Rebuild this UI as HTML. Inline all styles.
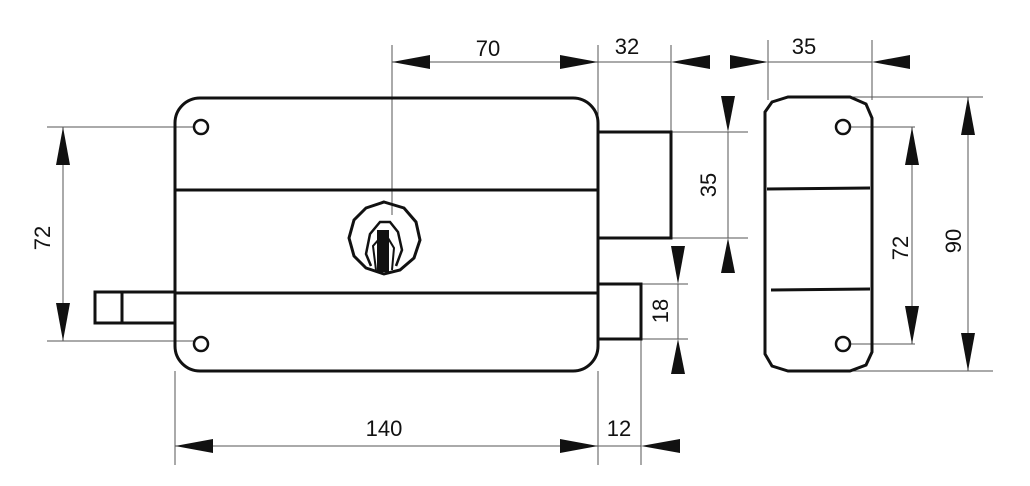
<!DOCTYPE html>
<html><head><style>html,body{margin:0;padding:0;background:#fff}svg{display:block}</style></head>
<body>
<svg width="1030" height="486" viewBox="0 0 1030 486" xmlns="http://www.w3.org/2000/svg" font-family="Liberation Sans, sans-serif" font-size="22" fill="#111">
<!-- thin lines -->
<g stroke="#555" stroke-width="1" fill="none">
<line x1="392" y1="45" x2="392" y2="215"/>
<line x1="598" y1="45" x2="598" y2="145"/>
<line x1="671" y1="45" x2="671" y2="132"/>
<line x1="768" y1="40" x2="768" y2="100"/>
<line x1="872" y1="40" x2="872" y2="100"/>
<line x1="392" y1="62" x2="671" y2="62"/>
<line x1="768" y1="62" x2="872" y2="62"/>
<line x1="47" y1="127" x2="195" y2="127"/>
<line x1="47" y1="341" x2="195" y2="341"/>
<line x1="63" y1="127" x2="63" y2="341"/>
<line x1="671" y1="132" x2="748" y2="132"/>
<line x1="671" y1="238" x2="748" y2="238"/>
<line x1="728" y1="132" x2="728" y2="238"/>
<line x1="641" y1="284" x2="688" y2="284"/>
<line x1="641" y1="339" x2="688" y2="339"/>
<line x1="678" y1="284" x2="678" y2="339"/>
<line x1="175" y1="371" x2="175" y2="465"/>
<line x1="598" y1="371" x2="598" y2="465"/>
<line x1="641" y1="339" x2="641" y2="465"/>
<line x1="175" y1="446" x2="641" y2="446"/>
<line x1="850" y1="97" x2="983" y2="97"/>
<line x1="850" y1="371" x2="993" y2="371"/>
<line x1="843" y1="127" x2="915" y2="127"/>
<line x1="843" y1="344" x2="915" y2="344"/>
<line x1="912" y1="127" x2="912" y2="344"/>
<line x1="968" y1="97" x2="968" y2="371"/>
</g>
<!-- arrows -->
<g fill="#111">
<polygon points="392,62 430,55 430,69"/>
<polygon points="598,62 560,55 560,69"/>
<polygon points="671,62 710,55 710,69"/>
<polygon points="768,62 730,55 730,69"/>
<polygon points="872,62 910,55 910,69"/>
<polygon points="63,127 56,165 70,165"/>
<polygon points="63,341 56,303 70,303"/>
<polygon points="728,132 721,96 735,96"/>
<polygon points="728,238 721,273 735,273"/>
<polygon points="678,284 671,246 685,246"/>
<polygon points="678,339 671,374 685,374"/>
<polygon points="175,446 213,439 213,453"/>
<polygon points="598,446 560,439 560,453"/>
<polygon points="641,446 680,439 680,453"/>
<polygon points="912,127 905,165 919,165"/>
<polygon points="912,344 905,306 919,306"/>
<polygon points="968,97 961,135 975,135"/>
<polygon points="968,371 961,333 975,333"/>
</g>
<!-- thick shapes -->
<g stroke="#111" stroke-width="3" fill="none">
<rect x="175" y="98" width="423" height="273" rx="25"/>
<line x1="175" y1="190" x2="598" y2="190"/>
<line x1="175" y1="293" x2="598" y2="293"/>
<rect x="598" y="132" width="73" height="106" fill="#fff"/>
<rect x="598" y="284" width="43" height="55" fill="#fff"/>
<rect x="95" y="292" width="80" height="31"/>
<line x1="122" y1="292" x2="122" y2="323"/>
<polygon points="384,202 404,208 416,222 420,240 414,258 400,270 384,274 366,268 354,256 349,238 354,220 366,208"/>
<path d="M371,266 L366,254 L370,234 L380,222 L390,222 L398,232 L402,250 L396,266" stroke-width="2.5"/>
<path d="M376,270 L373,246 L380,238 L388,238 L394,248 L392,270" stroke-width="2"/>
<polygon points="765,112 772,102 788,97 850,97 866,104 872,118 872,352 866,365 850,371 788,371 772,366 765,354" />
<line x1="767" y1="189" x2="870" y2="188"/>
<line x1="771" y1="290" x2="870" y2="289"/>
</g>
<rect x="377" y="230" width="12" height="42" fill="#111"/>
<g stroke="#111" stroke-width="2.5" fill="#fff">
<circle cx="201" cy="127" r="7"/>
<circle cx="201" cy="344" r="7"/>
<circle cx="843" cy="127" r="7"/>
<circle cx="843" cy="344" r="7"/>
</g>
<!-- labels -->
<g text-anchor="middle">
<text x="488" y="56">70</text>
<text x="627" y="54">32</text>
<text x="804" y="54">35</text>
<text x="384" y="436">140</text>
<text x="619" y="436">12</text>
<text transform="translate(50,238) rotate(-90)">72</text>
<text transform="translate(716,185) rotate(-90)">35</text>
<text transform="translate(668,311) rotate(-90)">18</text>
<text transform="translate(908,248) rotate(-90)">72</text>
<text transform="translate(961,241) rotate(-90)">90</text>
</g>
</svg>
</body></html>
